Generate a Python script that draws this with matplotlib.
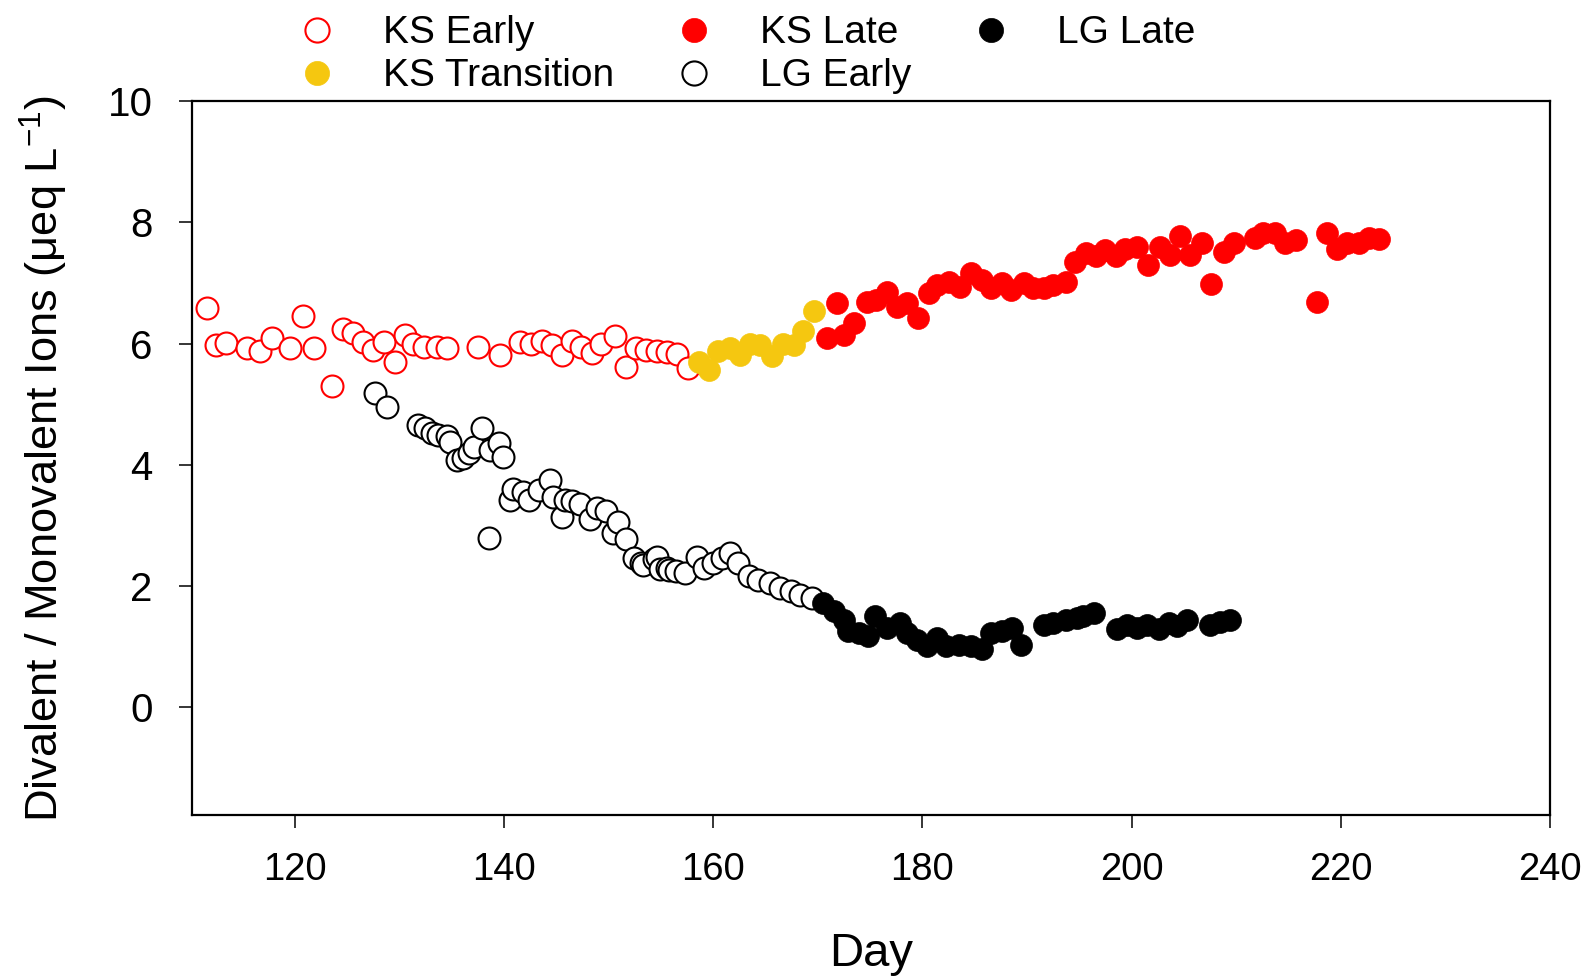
import matplotlib
matplotlib.use("Agg")
import matplotlib.pyplot as plt

plt.rcParams['font.family'] = ['Liberation Sans', 'DejaVu Sans']

# KS Early
ks_early_day = [111.6, 112.5, 113.4, 115.4, 116.7, 117.8, 119.5, 120.8, 121.8, 123.5,
                124.6, 125.6, 126.5, 127.5, 128.5, 129.6, 130.5, 131.3, 132.3, 133.6,
                134.5, 137.5, 139.6, 141.5, 142.6, 143.6, 144.6, 145.5, 146.5, 147.4,
                148.4, 149.3, 150.6, 151.7, 152.6, 153.6, 154.6, 155.6, 156.5, 157.6]
ks_early_val = [6.58, 5.98, 6.01, 5.92, 5.87, 6.09, 5.92, 6.45, 5.92, 5.30,
                6.24, 6.18, 6.03, 5.90, 6.03, 5.70, 6.15, 6.00, 5.95, 5.95,
                5.92, 5.95, 5.81, 6.03, 6.00, 6.04, 5.97, 5.81, 6.05, 5.95,
                5.84, 6.00, 6.12, 5.61, 5.93, 5.89, 5.87, 5.86, 5.82, 5.59]

# KS Transition
ks_trans_day = [158.6, 159.6, 160.5, 161.6, 162.6, 163.5, 164.5, 165.6, 166.7, 167.7, 168.6, 169.6]
ks_trans_val = [5.70, 5.57, 5.87, 5.92, 5.81, 6.00, 5.98, 5.79, 6.00, 5.98, 6.20, 6.53]

# KS Late
ks_late_day = [170.9, 171.8, 172.5, 173.5, 174.7, 175.6, 176.6, 177.6, 178.5, 179.6,
               180.6, 181.4, 182.5, 183.6, 184.6, 185.7, 186.6, 187.6, 188.5, 189.7,
               190.6, 191.6, 192.5, 193.7, 194.6, 195.6, 196.6, 197.5, 198.5, 199.4,
               200.5, 201.6, 202.7, 203.7, 204.6, 205.6, 206.7, 207.6, 208.8, 209.8,
               211.8, 212.6, 213.7, 214.7, 215.7, 217.7, 218.7, 219.6, 220.6, 221.7,
               222.7, 223.7]
ks_late_val = [6.09, 6.67, 6.15, 6.34, 6.69, 6.72, 6.86, 6.61, 6.67, 6.42,
               6.83, 6.97, 7.02, 6.94, 7.16, 7.05, 6.91, 7.00, 6.89, 7.00,
               6.91, 6.91, 6.97, 7.02, 7.35, 7.49, 7.44, 7.55, 7.44, 7.57,
               7.60, 7.30, 7.60, 7.46, 7.78, 7.46, 7.66, 6.99, 7.52, 7.66,
               7.74, 7.82, 7.82, 7.66, 7.71, 6.69, 7.82, 7.57, 7.66, 7.66,
               7.74, 7.72]

# LG Early
lg_early_day = [127.7, 128.8, 131.8, 132.4, 133.1, 133.7, 134.5, 134.8, 135.5, 136.1,
                136.6, 137.1, 137.9, 138.6, 138.7, 139.5, 139.9, 140.6, 140.9, 141.8,
                142.4, 143.3, 144.4, 144.7, 145.5, 145.8, 146.5, 147.3, 148.2, 148.9,
                149.7, 150.4, 150.9, 151.7, 152.4, 153.1, 153.3, 154.3, 154.6, 154.9,
                155.6, 155.8, 156.4, 157.3, 158.4, 159.1, 160.0, 160.8, 161.6, 162.4,
                163.4, 164.3, 165.4, 166.4, 167.4, 168.3, 169.4]
lg_early_val = [5.19, 4.95, 4.66, 4.60, 4.52, 4.49, 4.47, 4.38, 4.08, 4.11,
                4.19, 4.30, 4.60, 2.79, 4.25, 4.36, 4.12, 3.42, 3.60, 3.55,
                3.42, 3.59, 3.75, 3.47, 3.13, 3.42, 3.40, 3.35, 3.10, 3.28,
                3.23, 2.88, 3.05, 2.77, 2.46, 2.37, 2.35, 2.45, 2.48, 2.27,
                2.29, 2.26, 2.24, 2.21, 2.48, 2.29, 2.38, 2.46, 2.54, 2.38,
                2.16, 2.10, 2.05, 1.96, 1.91, 1.85, 1.80]

# LG Late
lg_late_day = [170.5, 171.5, 172.5, 172.9, 173.9, 174.8, 175.5, 176.6, 177.9, 178.5,
               179.5, 180.4, 181.4, 182.3, 183.5, 184.6, 185.7, 186.6, 187.6, 188.6,
               189.4, 191.6, 192.5, 193.7, 194.8, 195.4, 196.4, 198.6, 199.6, 200.5,
               201.5, 202.6, 203.6, 204.3, 205.3, 207.5, 208.5, 209.4]
lg_late_val = [1.72, 1.58, 1.44, 1.25, 1.22, 1.17, 1.50, 1.30, 1.39, 1.22,
               1.11, 1.00, 1.14, 1.00, 1.03, 1.00, 0.95, 1.22, 1.25, 1.30,
               1.03, 1.36, 1.39, 1.44, 1.47, 1.50, 1.55, 1.28, 1.36, 1.30,
               1.36, 1.28, 1.39, 1.33, 1.44, 1.36, 1.41, 1.44]

red = '#ff0000'
yellow = '#f5c710'
ms = 15.8

fig = plt.figure(figsize=(15.89, 9.80), dpi=100)
ax = fig.add_axes([0.1211, 0.1686, 0.8543, 0.728])

ax.plot(ks_early_day, ks_early_val, 'o', ms=ms, mfc='white', mec=red, mew=1.5,
        ls='none', label='KS Early')
ax.plot(ks_trans_day, ks_trans_val, 'o', ms=ms, mfc=yellow, mec=yellow, mew=0.5,
        ls='none', label='KS Transition')
ax.plot(ks_late_day, ks_late_val, 'o', ms=ms, mfc=red, mec=red, mew=0.5,
        ls='none', label='KS Late')
ax.plot(lg_early_day, lg_early_val, 'o', ms=ms, mfc='white', mec='black', mew=1.5,
        ls='none', label='LG Early')
ax.plot(lg_late_day, lg_late_val, 'o', ms=ms, mfc='black', mec='black', mew=0.5,
        ls='none', label='LG Late')

ax.set_xlim(110.2, 240)
ax.set_ylim(-1.78, 10)
ax.set_xticks([120, 140, 160, 180, 200, 220, 240])
ax.set_yticks([0, 2, 4, 6, 8, 10])
for s in ax.spines.values():
    s.set_linewidth(1.6)
ax.tick_params(axis='both', direction='out', length=9.5, width=1.1)
ax.tick_params(axis='y', pad=19, labelsize=29)
ax.tick_params(axis='x', pad=17.5, labelsize=27.5)

ax.set_xlabel('Day', fontsize=34)
ax.xaxis.set_label_coords(0.5, -0.165)
ax.set_ylabel(r'Divalent / Monovalent Ions ($\mathregular{\mu}$eq L$^{\mathregular{-1}}$)', fontsize=32.6)
ax.yaxis.set_label_coords(-0.090, 0.5)

fig.legend(loc='upper left', bbox_to_anchor=(0.1872, 0.9842), ncol=3, frameon=False,
           fontsize=28, handlelength=1.0, handletextpad=1.2, columnspacing=1.55,
           labelspacing=0.175, borderpad=0, borderaxespad=0, markerscale=1.1)

fig.savefig('out.png', dpi=100)
